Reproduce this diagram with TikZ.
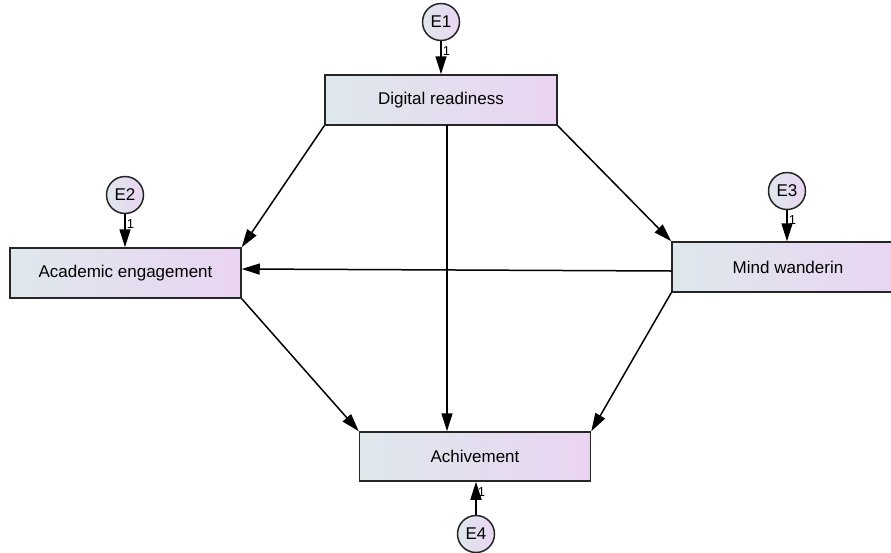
\documentclass[tikz,border=0pt]{standalone}
\usepackage{fontspec}
\setmainfont{Liberation Sans}
\usetikzlibrary{arrows.meta}
\definecolor{gl}{RGB}{222,232,236}
\definecolor{gr}{RGB}{234,212,242}
\tikzset{
  obs/.style={draw=black!85, line width=1.5pt, left color=gl, right color=gr, rectangle, minimum height=50pt, font=\fontsize{17}{19}\selectfont, inner sep=0pt},
  err/.style={draw=black!85, line width=1.5pt, left color=gl, right color=gr, circle, minimum size=37pt, inner sep=0pt, font=\fontsize{17}{19}\selectfont},
  path/.style={line width=1.5pt, -{Triangle[length=18pt,width=11pt]}},
  one/.style={font=\fontsize{13}{14}\selectfont, inner sep=1pt}
}
\begin{document}
\begin{tikzpicture}[x=1pt,y=-1pt]
\useasboundingbox (0,0) rectangle (891,552);
\node[obs, minimum width=232pt] (dr) at (441,100) {Digital readiness};
\node[obs, minimum width=231pt] (ae) at (125.5,273) {Academic engagement};
\node[obs, minimum width=232pt] (mw) at (788,267) {Mind wanderin};
\node[obs, minimum width=231pt, minimum height=49pt] (ac) at (475,456.5) {Achivement};
\node[err] (e1) at (441,22) {E1};
\node[err] (e2) at (125,195) {E2};
\node[err] (e3) at (787,191) {E3};
\node[err] (e4) at (476,534) {E4};
\draw[path] (e1) -- (dr.north -| e1) node[one, pos=0.3, anchor=west] {1};
\draw[path] (e2) -- (ae.north -| e2) node[one, pos=0.3, anchor=west] {1};
\draw[path] (e3) -- (mw.north -| e3) node[one, pos=0.3, anchor=west] {1};
\draw[path] (e4) -- (ac.south -| e4) node[one, pos=0.7, anchor=west] {1};
\coordinate (mwl) at ([yshift=-4pt]mw.west);
\coordinate (ael) at ([yshift=4pt]ae.east);
\coordinate (dra) at (447,125);
\draw[path] (dr.south west) -- (ae.north east);
\draw[path] (dr.south east) -- (mw.north west);
\draw[path] (dra) -- (dra |- ac.north);
\draw[path] (mwl) -- (ael);
\draw[path] (ae.south east) -- (ac.north west);
\draw[path] (mw.south west) -- (ac.north east);
\end{tikzpicture}
\end{document}
